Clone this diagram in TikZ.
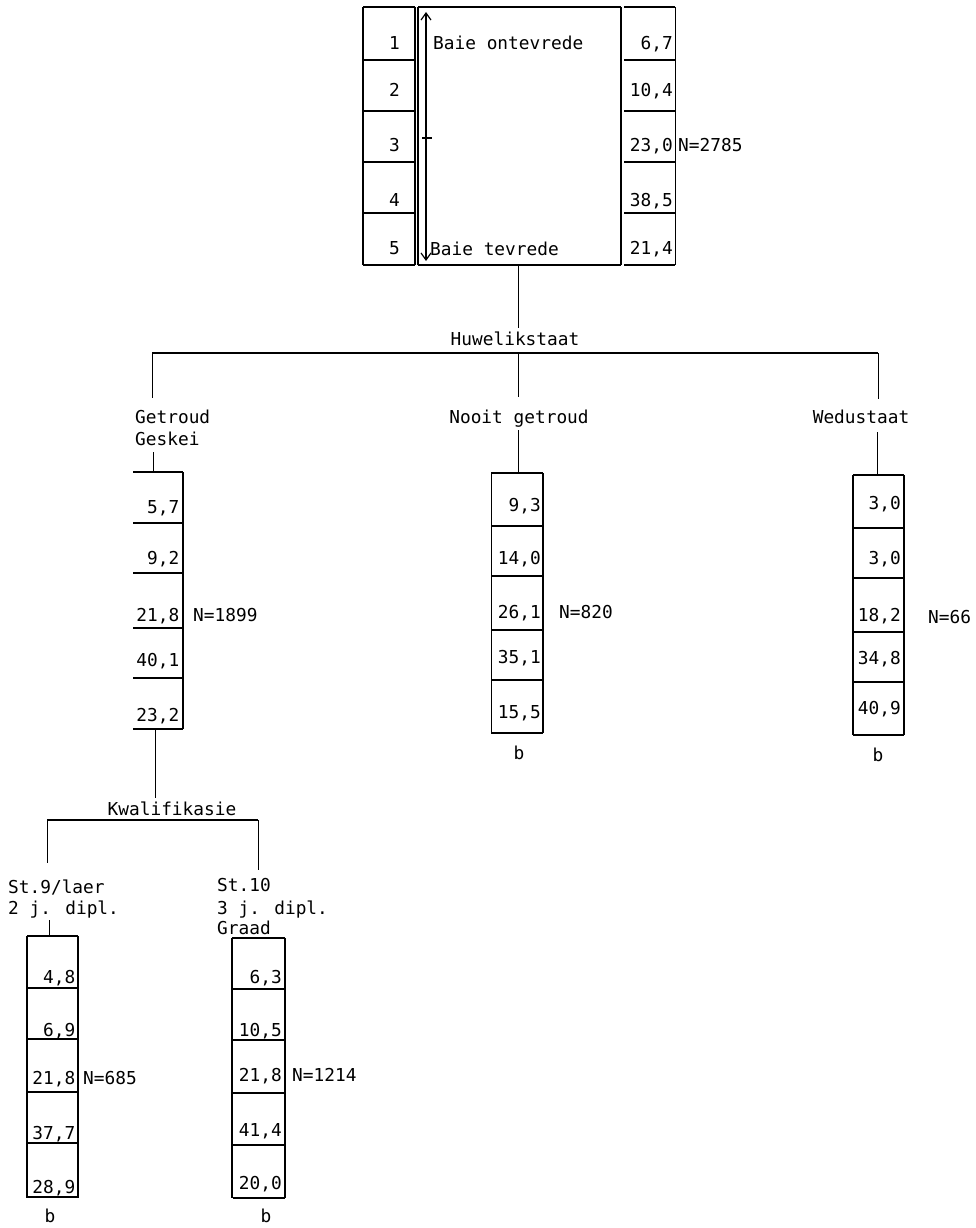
\documentclass[tikz,border=0pt]{standalone}
\usepackage{fontspec}
\newfontfamily\twfont{DejaVu Sans Mono}
\usetikzlibrary{arrows.meta}
\begin{document}
\begin{tikzpicture}[x=1pt,y=-1pt,
  txt/.style={font=\twfont\fontsize{17.8}{21.5}\selectfont, inner sep=0pt},
  val/.style={txt, anchor=base east},
  lab/.style={txt, anchor=base west},
  ctr/.style={txt, anchor=base},
  boxline/.style={line width=1.7pt},
  vline/.style={line width=1.3pt},
  thinv/.style={line width=0.9pt},
  conn/.style={line width=0.9pt},
  barb/.tip={Straight Barb[length=7pt,width=10pt,line width=1.2pt]}]
\useasboundingbox[fill=white] (0,0) rectangle (976,1228);

% ---------------- top box ----------------
\draw[vline] (363,7) -- (363,265);
\draw[vline] (415,7) -- (415,265);
\draw[vline] (418,7) -- (418,265);
\draw[line width=1.9pt] (621,7) -- (621,265);
\draw[thinv] (675,7) -- (675,265);
\foreach \y in {7,60,111,162,213,265} {
  \draw[boxline] (363,\y) -- (415,\y);
  \draw[boxline] (624,\y) -- (675,\y);
}
\draw[boxline] (418,7) -- (621,7);
\draw[boxline] (418,265) -- (621,265);

\node[val] (s1) at (400,50) {1};
\node[val] (s2) at (400,96.5) {2};
\node[val] (s3) at (400,151.5) {3};
\node[val] (s4) at (400,206.5) {4};
\node[val] (s5) at (400,254.5) {5};
\node[val] (tv1) at (673,50) {6,7};
\node[val] (tv2) at (673,96.5) {10,4};
\node[val] (tv3) at (673,151.5) {23,0};
\node[val] (tv4) at (673,206.5) {38,5};
\node[val] (tv5) at (673,254.5) {21,4};
\node[lab] (ont) at (433,50) {Baie ontevrede};
\node[lab] (tev) at (430,255) {Baie tevrede};
\node[lab] (ntop) at (678,151.5) {N=2785};

\coordinate (arrT) at (426,12);
\coordinate (arrB) at (426,261);
\draw[line width=1.2pt, barb-barb] (arrT) -- (arrB);
\coordinate (tickL) at (422,138);
\coordinate (tickR) at (432,138);
\draw[line width=1.2pt] (tickL) -- (tickR);

% ---------------- first split ----------------
\coordinate (topbot) at (518,265);
\coordinate (huwtop) at (518,328);
\node[ctr] (huw) at (515,345) {Huwelikstaat};
\draw[conn] (topbot) -- (huwtop);
\coordinate (hL) at (152,353);
\coordinate (hM) at (518,353);
\coordinate (hR) at (878,353);
\coordinate (gT) at (152,398);
\coordinate (nT) at (518,397);
\coordinate (wT) at (878,399);
\draw[line width=1.3pt] (hL) -- (hR);
\draw[conn] (hL) -- (gT);
\draw[conn] (hM) -- (nT);
\draw[conn] (hR) -- (wT);

\node[lab] (getr) at (135,423.5) {Getroud};
\node[lab] (gesk) at (135,445.5) {Geskei};
\node[ctr] (nooit) at (519,423) {Nooit getroud};
\node[ctr] (wed) at (861,423) {Wedustaat};

\coordinate (gD1) at (153,452);
\coordinate (gD2) at (153,472);
\coordinate (nD1) at (518,430);
\coordinate (nD2) at (518,473);
\coordinate (wD1) at (877,432);
\coordinate (wD2) at (877,475);
\draw[conn] (gD1) -- (gD2);
\draw[conn] (nD1) -- (nD2);
\draw[conn] (wD1) -- (wD2);

% ---------------- Getroud box ----------------
\draw[vline] (183,472) -- (183,729);
\foreach \y in {472,523,573,628,678,729} \draw[boxline] (133,\y) -- (183,\y);
\node[val] (g1) at (179.5,513.5) {5,7};
\node[val] (g2) at (179.5,564.5) {9,2};
\node[val] (g3) at (179.5,621.5) {21,8};
\node[val] (g4) at (179.5,666.5) {40,1};
\node[val] (g5) at (179.5,721.5) {23,2};
\node[lab] (gN) at (193,621.5) {N=1899};

% ---------------- Nooit box ----------------
\draw[thinv] (491,473) -- (491,733);
\draw[vline] (543,473) -- (543,733);
\foreach \y in {473,526,576,630,680,733} \draw[boxline] (491,\y) -- (543,\y);
\node[val] (n1) at (541,511.5) {9,3};
\node[val] (n2) at (541,564.5) {14,0};
\node[val] (n3) at (541,618.5) {26,1};
\node[val] (n4) at (541,663.5) {35,1};
\node[val] (n5) at (541,718.5) {15,5};
\node[lab] (nN) at (559,618.5) {N=820};
\node[ctr] (nb) at (519,759) {b};

% ---------------- Wedustaat box ----------------
\draw[vline] (853,475) -- (853,735);
\draw[vline] (904,475) -- (904,735);
\foreach \y in {475,528,578,632,682,735} \draw[boxline] (853,\y) -- (904,\y);
\node[val] (w1) at (901,509.5) {3,0};
\node[val] (w2) at (901,564.5) {3,0};
\node[val] (w3) at (901,621.5) {18,2};
\node[val] (w4) at (901,664.5) {34,8};
\node[val] (w5) at (901,714.5) {40,9};
\node[lab] (wN) at (928,623.5) {N=66};
\node[ctr] (wb) at (878,761) {b};

% ---------------- second split ----------------
\coordinate (gbot) at (155,729);
\coordinate (kwtop) at (155,798);
\draw[conn] (gbot) -- (kwtop);
\node[ctr] (kwal) at (172,815) {Kwalifikasie};
\coordinate (kL) at (47,820);
\coordinate (kR) at (258,820);
\coordinate (kLd) at (47,863);
\coordinate (kRd) at (258,870);
\draw[line width=1.3pt] (kL) -- (kR);
\draw[conn] (kL) -- (kLd);
\draw[conn] (kR) -- (kRd);

\node[lab] (st9) at (8,893.5) {St.9/laer};
\node[lab] (dip2) at (8,914.5) {2 j. dipl.};
\node[lab] (st10) at (217,891.5) {St.10};
\node[lab] (dip3) at (217,914.5) {3 j. dipl.};
\node[lab] (graad) at (217,934.5) {Graad};

\coordinate (aD1) at (49,920);
\coordinate (aD2) at (49,936);
\draw[conn] (aD1) -- (aD2);

% ---------------- St.9 box ----------------
\draw[vline] (27,936) -- (27,1198);
\draw[vline] (78,936) -- (78,1198);
\draw[boxline] (27,936) -- (78,936);
\foreach \y in {988,1039,1092,1143,1197} \draw[boxline] (28,\y) -- (77,\y);
\node[val] (a1) at (75.5,983.5) {4,8};
\node[val] (a2) at (75.5,1036.5) {6,9};
\node[val] (a3) at (75.5,1084.5) {21,8};
\node[val] (a4) at (75.5,1139.5) {37,7};
\node[val] (a5) at (75.5,1193.5) {28,9};
\node[lab] (aN) at (83,1084.5) {N=685};
\node[ctr] (ab) at (50,1222) {b};

% ---------------- St.10 box ----------------
\draw[vline] (232,938) -- (232,1198);
\draw[vline] (285,938) -- (285,1198);
\draw[boxline] (232,938) -- (285,938);
\foreach \y in {989,1040,1093,1145,1198} \draw[boxline] (233,\y) -- (285,\y);
\node[val] (b1) at (282,983.5) {6,3};
\node[val] (b2) at (282,1036.5) {10,5};
\node[val] (b3) at (282,1081.5) {21,8};
\node[val] (b4) at (282,1136.5) {41,4};
\node[val] (b5) at (282,1189.5) {20,0};
\node[lab] (bN) at (292,1081.5) {N=1214};
\node[ctr] (bb) at (266,1222) {b};
\end{tikzpicture}
\end{document}
